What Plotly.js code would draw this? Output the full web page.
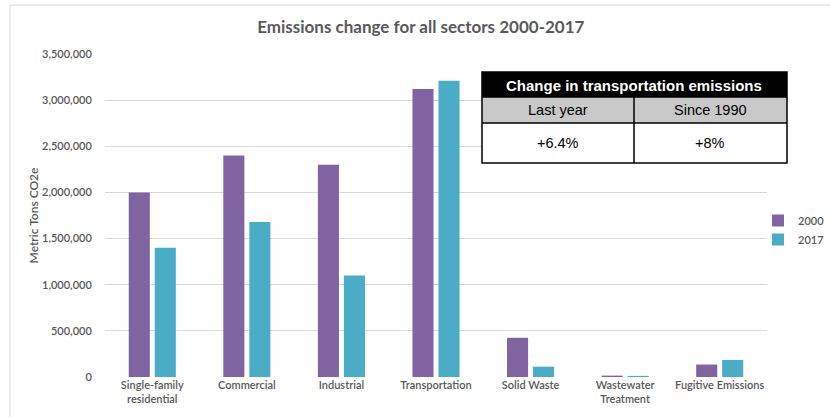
<!DOCTYPE html>
<html>
<head>
<meta charset="utf-8">
<script src="https://cdn.plot.ly/plotly-3.0.1.min.js"></script>
<style>html,body{margin:0;padding:0;background:#fff;}#chart{width:830px;height:417px;}</style>
</head>
<body>
<div id="chart"></div>
<script>
var categories = ["Single-family residential","Commercial","Industrial","Transportation","Solid Waste","Wastewater Treatment","Fugitive Emissions"];
var tickLabels = ["Single-family<br>residential","Commercial","Industrial","Transportation","Solid Waste","Wastewater<br>Treatment","Fugitive Emissions"];
var values2000 = [2000000, 2400000, 2300000, 3120000, 425000, 15000, 135000];
var values2017 = [1400000, 1680000, 1100000, 3210000, 112000, 12000, 185000];
var tableTitle = "Change in transportation emissions";
var tableHeaders = ["Last year","Since 1990"];
var tableValues = ["+6.4%","+8%"];

var W = 830, H = 417, L = 105, R = 767, T = 54, B = 377;
function px(x){ return (x - L) / (R - L); }
function py(y){ return (B - y) / (B - T); }

var gray = "#595959";
var lblFont = {family:"Lato, sans-serif", size:11, color:gray, weight:600};
var traces = [
  {type:"bar", name:"2000", x:categories, y:values2000, marker:{color:"#8064A2"}},
  {type:"bar", name:"2017", x:categories, y:values2017, marker:{color:"#4BACC6"}}
];

var shapes = [
  {type:"rect", xref:"paper", yref:"paper", x0:px(10), x1:px(840), y0:py(430), y1:py(5), line:{color:"#D9D9D9", width:1}, fillcolor:"rgba(0,0,0,0)", layer:"below"},
  {type:"rect", xref:"paper", yref:"paper", x0:px(482), x1:px(787), y0:py(97), y1:py(72), line:{width:0}, fillcolor:"#000000"},
  {type:"rect", xref:"paper", yref:"paper", x0:px(482), x1:px(787), y0:py(123), y1:py(97), line:{width:0}, fillcolor:"#C8C8C8"},
  {type:"rect", xref:"paper", yref:"paper", x0:px(482), x1:px(787), y0:py(163), y1:py(123), line:{width:0}, fillcolor:"#FFFFFF"},
  {type:"rect", xref:"paper", yref:"paper", x0:px(482), x1:px(787), y0:py(163), y1:py(72), line:{color:"#000", width:1.5}, fillcolor:"rgba(0,0,0,0)"},
  {type:"line", xref:"paper", yref:"paper", x0:px(482), x1:px(787), y0:py(97), y1:py(97), line:{color:"#000", width:1.5}},
  {type:"line", xref:"paper", yref:"paper", x0:px(482), x1:px(787), y0:py(123), y1:py(123), line:{color:"#000", width:1.5}},
  {type:"line", xref:"paper", yref:"paper", x0:px(634), x1:px(634), y0:py(163), y1:py(97), line:{color:"#000", width:1.5}}
];

var tf = {family:"Liberation Sans, Arial, sans-serif", size:14.5, color:"#000"};
function ann(x, y, text, font){
  return {xref:"paper", yref:"paper", x:px(x), y:py(y), xanchor:"center", yanchor:"middle", text:text, showarrow:false, font:font};
}
var annotations = [
  ann(634, 85, "<b>"+tableTitle+"</b>", {family:tf.family, size:15, color:"#fff"}),
  ann(558, 110, tableHeaders[0], tf),
  ann(710, 110, tableHeaders[1], tf),
  ann(558, 143, tableValues[0], tf),
  ann(710, 143, tableValues[1], tf)
];

var layout = {
  width:W, height:H,
  margin:{l:L, r:W-R, t:T, b:H-B, pad:0, autoexpand:false},
  paper_bgcolor:"#fff", plot_bgcolor:"#fff",
  title:{text:"Emissions change for all sectors 2000-2017", x:0.507, xanchor:"center", y:0.935, yanchor:"middle", font:{family:"Lato, sans-serif", size:17, color:gray, weight:700}},
  barmode:"group", bargap:0.45, bargroupgap:0.19,
  xaxis:{tickvals:categories, ticktext:tickLabels, showgrid:false, zeroline:false, showline:false, ticks:"", tickfont:lblFont, automargin:false},
  yaxis:{range:[0,3500000], dtick:500000, tickformat:",d", showgrid:true, gridcolor:"#D9D9D9", gridwidth:1, zeroline:false, showline:false, ticks:"outside", ticklen:10, tickcolor:"rgba(0,0,0,0)", tickfont:lblFont, automargin:false,
    title:{text:"Metric Tons CO2e", standoff:0, font:{family:"Lato, sans-serif", size:12, color:gray, weight:600}}},
  legend:{x:px(758), xanchor:"left", y:py(230), yanchor:"middle", font:lblFont, itemwidth:30, tracegroupgap:0, bgcolor:"rgba(0,0,0,0)"},
  shapes:shapes, annotations:annotations,
  showlegend:true
};
Plotly.newPlot("chart", traces, layout, {displayModeBar:false, staticPlot:true});
</script>
</body>
</html>
